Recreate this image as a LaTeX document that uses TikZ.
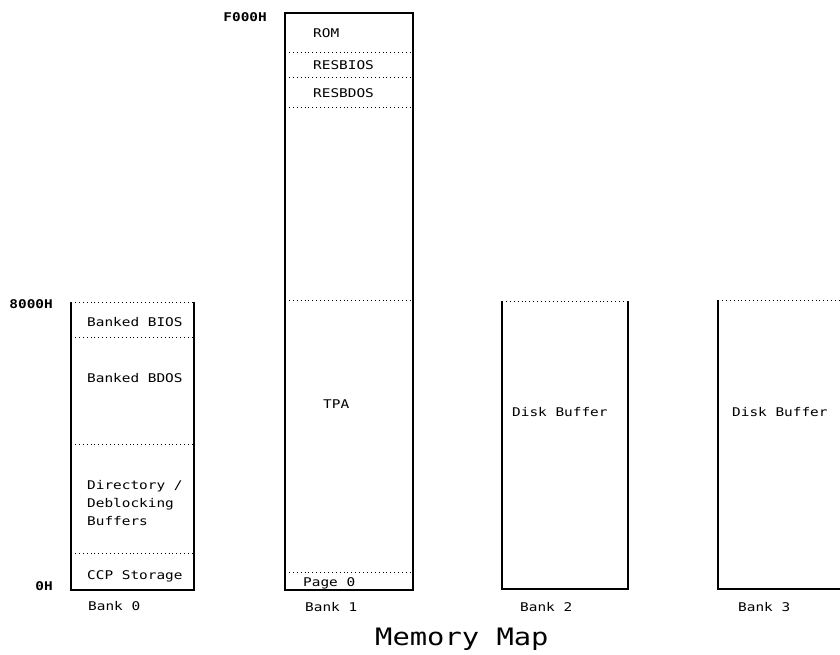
\documentclass[tikz,border=0pt]{standalone}
\usepackage{fontspec}
\setmonofont[FakeStretch=1.2]{DejaVu Sans Mono}
\usepackage{tikz}

\begin{document}
\begin{tikzpicture}[x=1pt, y=-1pt,
  txt/.style={font=\ttfamily\fontsize{12}{14}\selectfont, inner sep=0pt,
              text height=8.75pt, text depth=0pt, anchor=west},
  addr/.style={txt, font=\ttfamily\bfseries\fontsize{12}{14}\selectfont, anchor=east},
  wall/.style={line width=1.3pt},
  sep/.style={line width=0.9pt, dash pattern=on 0.9pt off 3pt}]
  \useasboundingbox (0,0) rectangle (840,655);

  % Bank 0
  \draw[wall] (71,302) |- (194,590) -- (194,302);
  \foreach \y in {302,337,444,553} \draw[sep] (71,\y) -- (194,\y);
  \node[txt] (bbios) at (87,322) {Banked BIOS};
  \node[txt] (bbdos) at (87,378) {Banked BDOS};
  \node[txt] (dir) at (87,485) {Directory /};
  \node[txt] (deblk) at (87,503) {Deblocking};
  \node[txt] (buf) at (87,521) {Buffers};
  \node[txt] (ccp) at (87,575) {CCP Storage};
  \node[txt] (bank0) at (88,606) {Bank 0};

  % Bank 1
  \draw[wall] (285,13) rectangle (413,590);
  \foreach \y in {52,77,107,300,572} \draw[sep] (285,\y) -- (413,\y);
  \node[txt] (rom) at (313,33) {ROM};
  \node[txt] (resbios) at (313,65) {RESBIOS};
  \node[txt] (resbdos) at (313,93) {RESBDOS};
  \node[txt] (tpa) at (323,404) {TPA};
  \node[txt] (page0) at (303,582) {Page 0};
  \node[txt] (bank1) at (305,607) {Bank 1};

  % Bank 2
  \draw[wall] (502,301) |- (628,589) -- (628,301);
  \draw[sep] (502,301) -- (628,301);
  \node[txt] (disk2) at (512,412) {Disk Buffer};
  \node[txt] (bank2) at (520,607) {Bank 2};

  % Bank 3 (runs off the right edge)
  \draw[wall] (718,300) |- (846,589);
  \draw[sep] (718,300) -- (846,300);
  \node[txt] (disk3) at (732,412) {Disk Buffer};
  \node[txt] (bank3) at (738,607) {Bank 3};

  % addresses
  \node[addr] (a8000) at (53,304) {8000H};
  \node[addr] (a0) at (53,586) {0H};
  \node[addr] (af000) at (267,17) {F000H};

  \node[txt, font=\ttfamily\fontsize{24}{28}\selectfont, text height=17.5pt]
    (title) at (375,637) {Memory Map};
\end{tikzpicture}
\end{document}
